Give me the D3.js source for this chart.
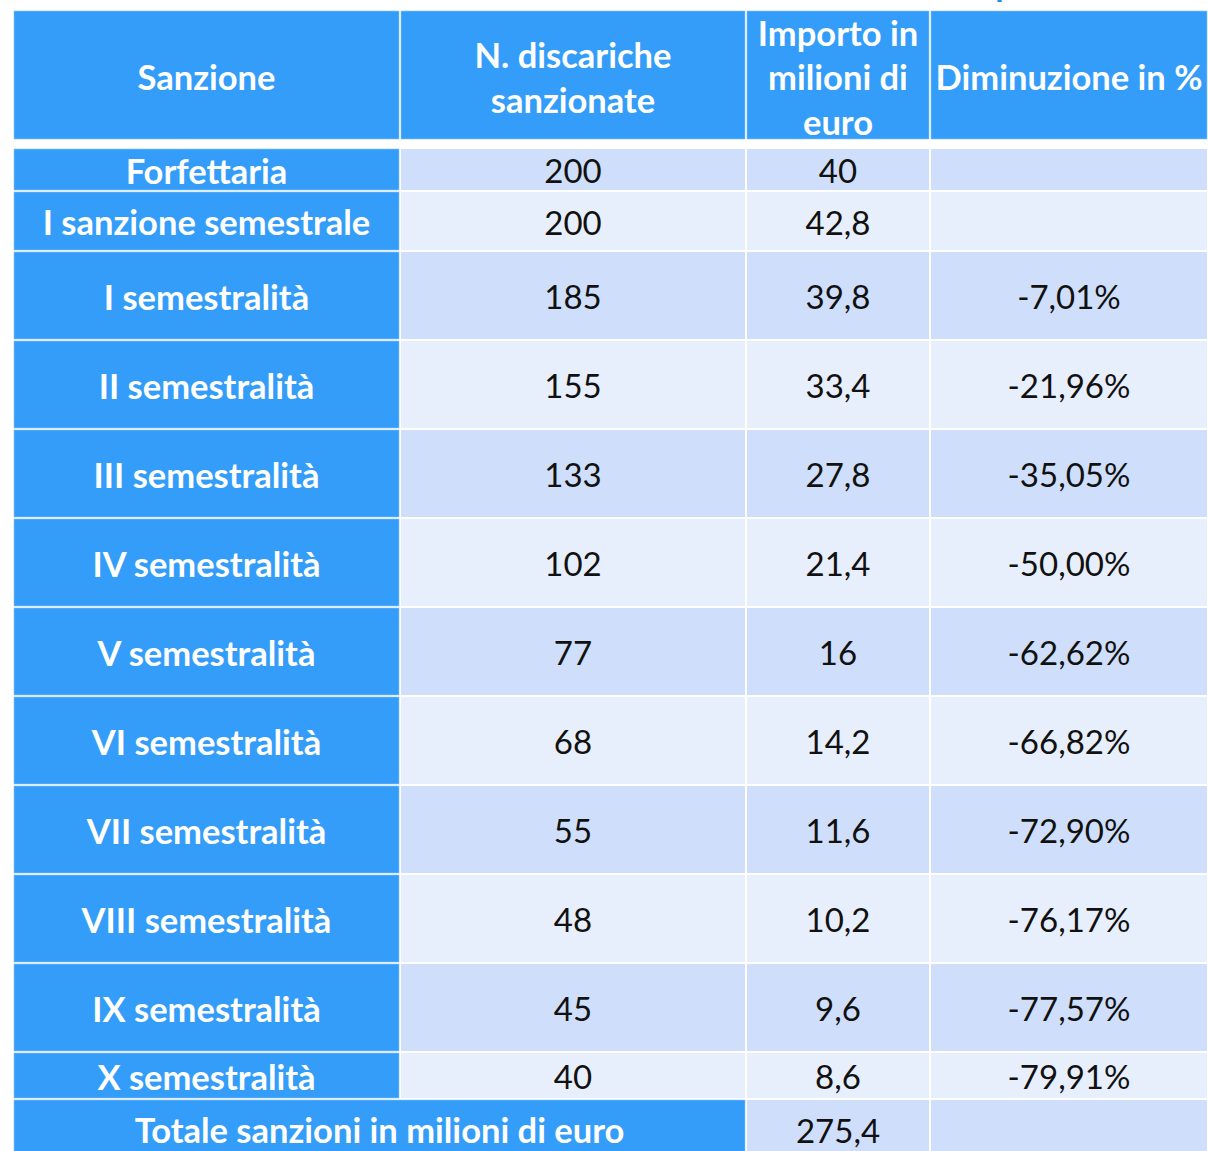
<!DOCTYPE html>
<html>
<head>
<meta charset="utf-8">
<script src="https://cdn.jsdelivr.net/npm/d3@7"></script>
<style>
  body { margin: 0; background: #fff; }
  svg { display: block; }
</style>
</head>
<body>
<div id="chart"></div>
<script>
// dati della tabella
const headers = [["Sanzione"], ["N. discariche", "sanzionate"], ["Importo in", "milioni di", "euro"], ["Diminuzione in %"]];
const sanzioni = ["Forfettaria", "I sanzione semestrale", "I semestralità", "II semestralità", "III semestralità",
  "IV semestralità", "V semestralità", "VI semestralità", "VII semestralità", "VIII semestralità",
  "IX semestralità", "X semestralità"];
const discariche = ["200", "200", "185", "155", "133", "102", "77", "68", "55", "48", "45", "40"];
const importi = ["40", "42,8", "39,8", "33,4", "27,8", "21,4", "16", "14,2", "11,6", "10,2", "9,6", "8,6"];
const diminuzioni = ["", "", "-7,01%", "-21,96%", "-35,05%", "-50,00%", "-62,62%", "-66,82%", "-72,90%", "-76,17%", "-77,57%", "-79,91%"];
const totaleLabel = "Totale sanzioni in milioni di euro";
const totaleValore = "275,4";

const width = 1208, height = 1151;
const blue = "#339df9", dark = "#cfdffb", light = "#e8effc";
const font = "Lato, 'Open Sans', sans-serif";

// layout: bordi colonne e altezze righe
const colEdges = [13, 400, 746, 930, 1208];
const rowHeights = [130, 8, 43, 60, 89, 89, 89, 89, 89, 89, 89, 89, 89, 47, 60];
const rowTops = [10];
rowHeights.forEach((h, i) => rowTops.push(rowTops[i] + h));

const svg = d3.select("#chart").append("svg")
  .attr("width", width).attr("height", height);

// pezzo del titolo tagliato in alto
svg.append("text")
  .attr("x", 1005).attr("y", -4)
  .attr("text-anchor", "middle")
  .attr("font-family", font).attr("font-weight", "bold").attr("font-size", 34)
  .attr("fill", "#1f8ff0")
  .text("p");

function cell(x0, x1, y0, y1, fill, lines, bold, color, size, shift = 2) {
  const g = svg.append("g");
  g.append("rect")
    .attr("x", x0 + 1).attr("y", y0 + 1)
    .attr("width", x1 - x0 - 2).attr("height", y1 - y0 - 2)
    .attr("fill", fill)
    .attr("stroke", fill === blue ? "#8cc4f7" : "none")
    .attr("stroke-width", 0.6);
  const cx = (x0 + x1) / 2, cy = (y0 + y1) / 2 + shift;
  const lh = 44.5;
  g.selectAll("text").data(lines).enter().append("text")
    .attr("x", cx)
    .attr("y", (d, i) => cy + (i - (lines.length - 1) / 2) * lh)
    .attr("dy", "0.36em")
    .attr("text-anchor", "middle")
    .attr("font-family", font)
    .attr("font-weight", bold ? "bold" : "normal")
    .attr("font-size", size)
    .attr("fill", color)
    .text(d => d);
}

const bSize = 34.5, nSize = 33;

// intestazione
headers.forEach((h, c) => {
  cell(colEdges[c], colEdges[c + 1], rowTops[0], rowTops[1], blue, h, true, "#fff", bSize, 3);
});

// righe dati
sanzioni.forEach((s, i) => {
  const y0 = rowTops[i + 2], y1 = rowTops[i + 3];
  const fill = i % 2 === 0 ? dark : light;
  cell(colEdges[0], colEdges[1], y0, y1, blue, [s], true, "#fff", bSize);
  cell(colEdges[1], colEdges[2], y0, y1, fill, [discariche[i]], false, "#111", nSize);
  cell(colEdges[2], colEdges[3], y0, y1, fill, [importi[i]], false, "#111", nSize);
  cell(colEdges[3], colEdges[4], y0, y1, fill, [diminuzioni[i]].filter(d => d), false, "#111", nSize);
});

// riga totale
const ty0 = rowTops[sanzioni.length + 2], ty1 = rowTops[sanzioni.length + 3];
cell(colEdges[0], colEdges[2], ty0, ty1, blue, [totaleLabel], true, "#fff", bSize);
cell(colEdges[2], colEdges[3], ty0, ty1, dark, [totaleValore], false, "#111", nSize);
cell(colEdges[3], colEdges[4], ty0, ty1, dark, [], false, "#111", nSize);
</script>
</body>
</html>
